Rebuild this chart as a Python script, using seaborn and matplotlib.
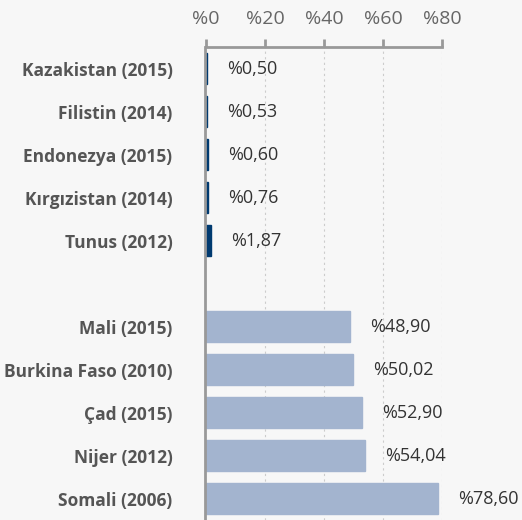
import pandas as pd
import matplotlib.pyplot as plt
import seaborn as sns

# chart data
countries = ["Kazakistan (2015)", "Filistin (2014)", "Endonezya (2015)", "Kırgızistan (2014)",
             "Tunus (2012)", " ", "Mali (2015)", "Burkina Faso (2010)", "Çad (2015)",
             "Nijer (2012)", "Somali (2006)"]
values = [0.50, 0.53, 0.60, 0.76, 1.87, None, 48.90, 50.02, 52.90, 54.04, 78.60]
groups = ["low"] * 5 + [None] + ["high"] * 5
x_ticks = [0, 20, 40, 60, 80]

df = pd.DataFrame({"country": countries, "value": values, "group": groups}).dropna()

sns.set_style("white")
plt.rcParams['font.family'] = ['Open Sans', 'DejaVu Sans']

fig = plt.figure(figsize=(5.22, 5.20), dpi=100)
fig.patch.set_facecolor("#f7f7f7")
ax = fig.add_axes([0.3945, 0.0, 0.452, 0.9096])
ax.set_facecolor("#f7f7f7")

sns.barplot(data=df, y="country", x="value", hue="group", order=countries,
            palette={"low": "#003a70", "high": "#a3b4cf"}, width=0.72,
            saturation=1, legend=False, dodge=False, ax=ax)
for p in ax.patches:
    p.set_edgecolor(p.get_facecolor())
    p.set_linewidth(1)

for side in ["right", "bottom"]:
    ax.spines[side].set_visible(False)
for side in ["top", "left"]:
    ax.spines[side].set_color("#999999")
    ax.spines[side].set_linewidth(2)
ax.spines["left"].set_position(("outward", 1))

ax.set_xlim(0, 80)
ax.set_ylim(len(countries) - 0.5, -0.5)
ax.xaxis.tick_top()
ax.set_xticks(x_ticks)
ax.set_xticklabels([f"%{t}" for t in x_ticks], color="#666666", fontsize=14)
ax.tick_params(axis="x", direction="out", length=6, width=2, color="#999999", pad=8)
ax.set_xlabel("")
ax.set_ylabel("")

# vertical dashed grid
for t in x_ticks[1:]:
    ax.axvline(t, color="#cccccc", linestyle=(0, (2, 3)), linewidth=0.8, zorder=0)

# y labels at row centers, tick marks at row boundaries
ax.set_yticks(range(len(countries)))
ax.set_yticklabels(countries, fontweight="bold", color="#555555", fontsize=12.5)
ax.tick_params(axis="y", which="major", length=0, pad=23)
ax.set_yticks([i + 0.5 for i in range(len(countries))], minor=True)
ax.tick_params(axis="y", which="minor", direction="out", length=6, width=2, color="#999999")

# value labels
for i, (c, v) in enumerate(zip(countries, values)):
    if v is None:
        continue
    ax.annotate(f"%{v:.2f}".replace(".", ","), xy=(v, i), xytext=(20, 0),
                textcoords="offset pixels", va="center", ha="left",
                fontsize=13, color="#333333", annotation_clip=False)

fig.savefig("out.png", dpi=100, facecolor=fig.get_facecolor())
